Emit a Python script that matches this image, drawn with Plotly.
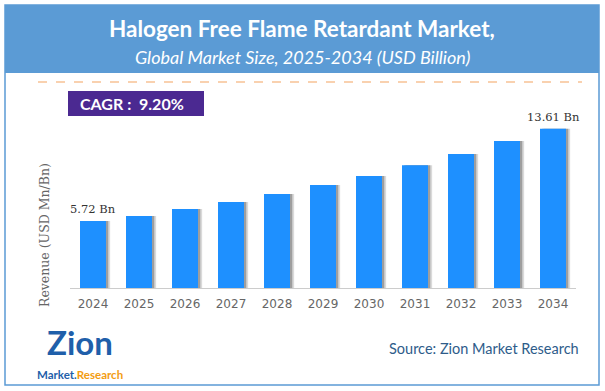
import plotly.graph_objects as go

years = ["2024", "2025", "2026", "2027", "2028", "2029", "2030", "2031", "2032", "2033", "2034"]
revenue = [5.72, 6.15, 6.75, 7.35, 8.03, 8.80, 9.57, 10.50, 11.45, 12.56, 13.61]
value_labels = {"2024": "5.72 Bn", "2034": "13.61 Bn"}
title_text = "Halogen Free Flame Retardant Market,"
subtitle_text = "Global Market Size, 2025-2034 (USD Billion)"
cagr_text = "CAGR :  9.20%"
source_text = "Source: Zion Market Research"
yaxis_title = "Revenue (USD Mn/Bn)"

W, H = 605, 391
L, R, T, B = 70, 29, 120, 103
PW, PH = W - L - R, H - T - B


def px(x):
    return (x - L) / PW


def py(y):
    return (H - B - y) / PH


fig = go.Figure()
bar_w = 0.565
for dx, col in [(0.09, "rgba(150,150,150,0.35)"), (0.05, "rgba(110,110,110,0.55)")]:
    fig.add_trace(go.Bar(x=years, y=revenue, width=bar_w, offset=-bar_w / 2 + dx,
                         marker=dict(color=col, line=dict(width=0)), hoverinfo="skip",
                         showlegend=False))
fig.add_trace(go.Bar(x=years, y=revenue, width=bar_w, offset=-bar_w / 2,
                     marker=dict(color="#1E90FF", line=dict(width=0)), showlegend=False))

shapes = [
    dict(type="rect", xref="paper", yref="paper", x0=px(5), x1=px(599), y0=py(5), y1=py(385),
         line=dict(color="#5B9BD5", width=1.5), fillcolor="rgba(0,0,0,0)", layer="below"),
    dict(type="rect", xref="paper", yref="paper", x0=px(5), x1=px(599), y0=py(5), y1=py(73),
         line=dict(width=0), fillcolor="#5B9BD5", layer="below"),
    dict(type="line", xref="paper", yref="paper", x0=px(38), x1=px(582), y0=py(82), y1=py(82),
         line=dict(color="#F4A460", width=1.2, dash="dash")),
    dict(type="rect", xref="paper", yref="paper", x0=px(68), x1=px(204), y0=py(91), y1=py(116),
         line=dict(width=0), fillcolor="#4B2991"),
]

annotations = [
    dict(text=f"<b>{title_text}</b>", xref="paper", yref="paper", x=px(302), y=py(29),
         showarrow=False, font=dict(family="Lato", size=22.5, color="white"), xanchor="center", yanchor="middle"),
    dict(text=f"<i>{subtitle_text}</i>", xref="paper", yref="paper", x=px(302), y=py(57),
         showarrow=False, font=dict(family="Lato", size=18, color="white"), xanchor="center", yanchor="middle"),
    dict(text=f"<b>{cagr_text}</b>", xref="paper", yref="paper", x=px(132), y=py(103.5),
         showarrow=False, font=dict(family="Lato", size=16, color="white"), xanchor="center", yanchor="middle"),
    dict(text=yaxis_title, xref="paper", yref="paper", x=px(44), y=py(235), textangle=-90,
         showarrow=False, font=dict(family="DejaVu Serif", size=12.5, color="#666666"),
         xanchor="center", yanchor="middle"),
    dict(text=source_text, xref="paper", yref="paper", x=px(581), y=py(348),
         showarrow=False, font=dict(family="Lato", size=14.5, color="#2E5C8A"), xanchor="right", yanchor="middle"),
    dict(text="<b>Zion</b>", xref="paper", yref="paper", x=px(80), y=py(342),
         showarrow=False, font=dict(family="Lato", size=33, color="#1F5FAA"), xanchor="center", yanchor="middle"),
    dict(text="<b><span style='color:#1F5FAA'>Market.</span><span style='color:#F39C12'>Research</span></b>",
         xref="paper", yref="paper", x=px(80), y=py(374),
         showarrow=False, font=dict(family="Lato", size=11.5), xanchor="center", yanchor="middle"),
]
for yr, lab in value_labels.items():
    i = years.index(yr)
    annotations.append(dict(text=lab, x=i, y=revenue[i], xref="x", yref="y",
                            showarrow=False, yshift=12, font=dict(family="DejaVu Serif", size=11.5, color="#333333"),
                            xanchor="center", yanchor="middle"))

fig.update_layout(
    width=W, height=H,
    margin=dict(l=L, r=R, t=T, b=B),
    paper_bgcolor="white", plot_bgcolor="white",
    barmode="overlay",
    shapes=shapes, annotations=annotations,
    xaxis=dict(type="category", range=[-0.5, 10.5], showline=True, linecolor="#CCCCCC", linewidth=1,
               showgrid=False, ticks="", ticklabelstandoff=5,
               tickfont=dict(family="DejaVu Sans", size=12, color="#666666")),
    yaxis=dict(range=[0, 14.36], visible=False, showgrid=False),
)

fig.write_html("out.html", config={"displayModeBar": False},
               post_script="document.body.style.margin='0';")
